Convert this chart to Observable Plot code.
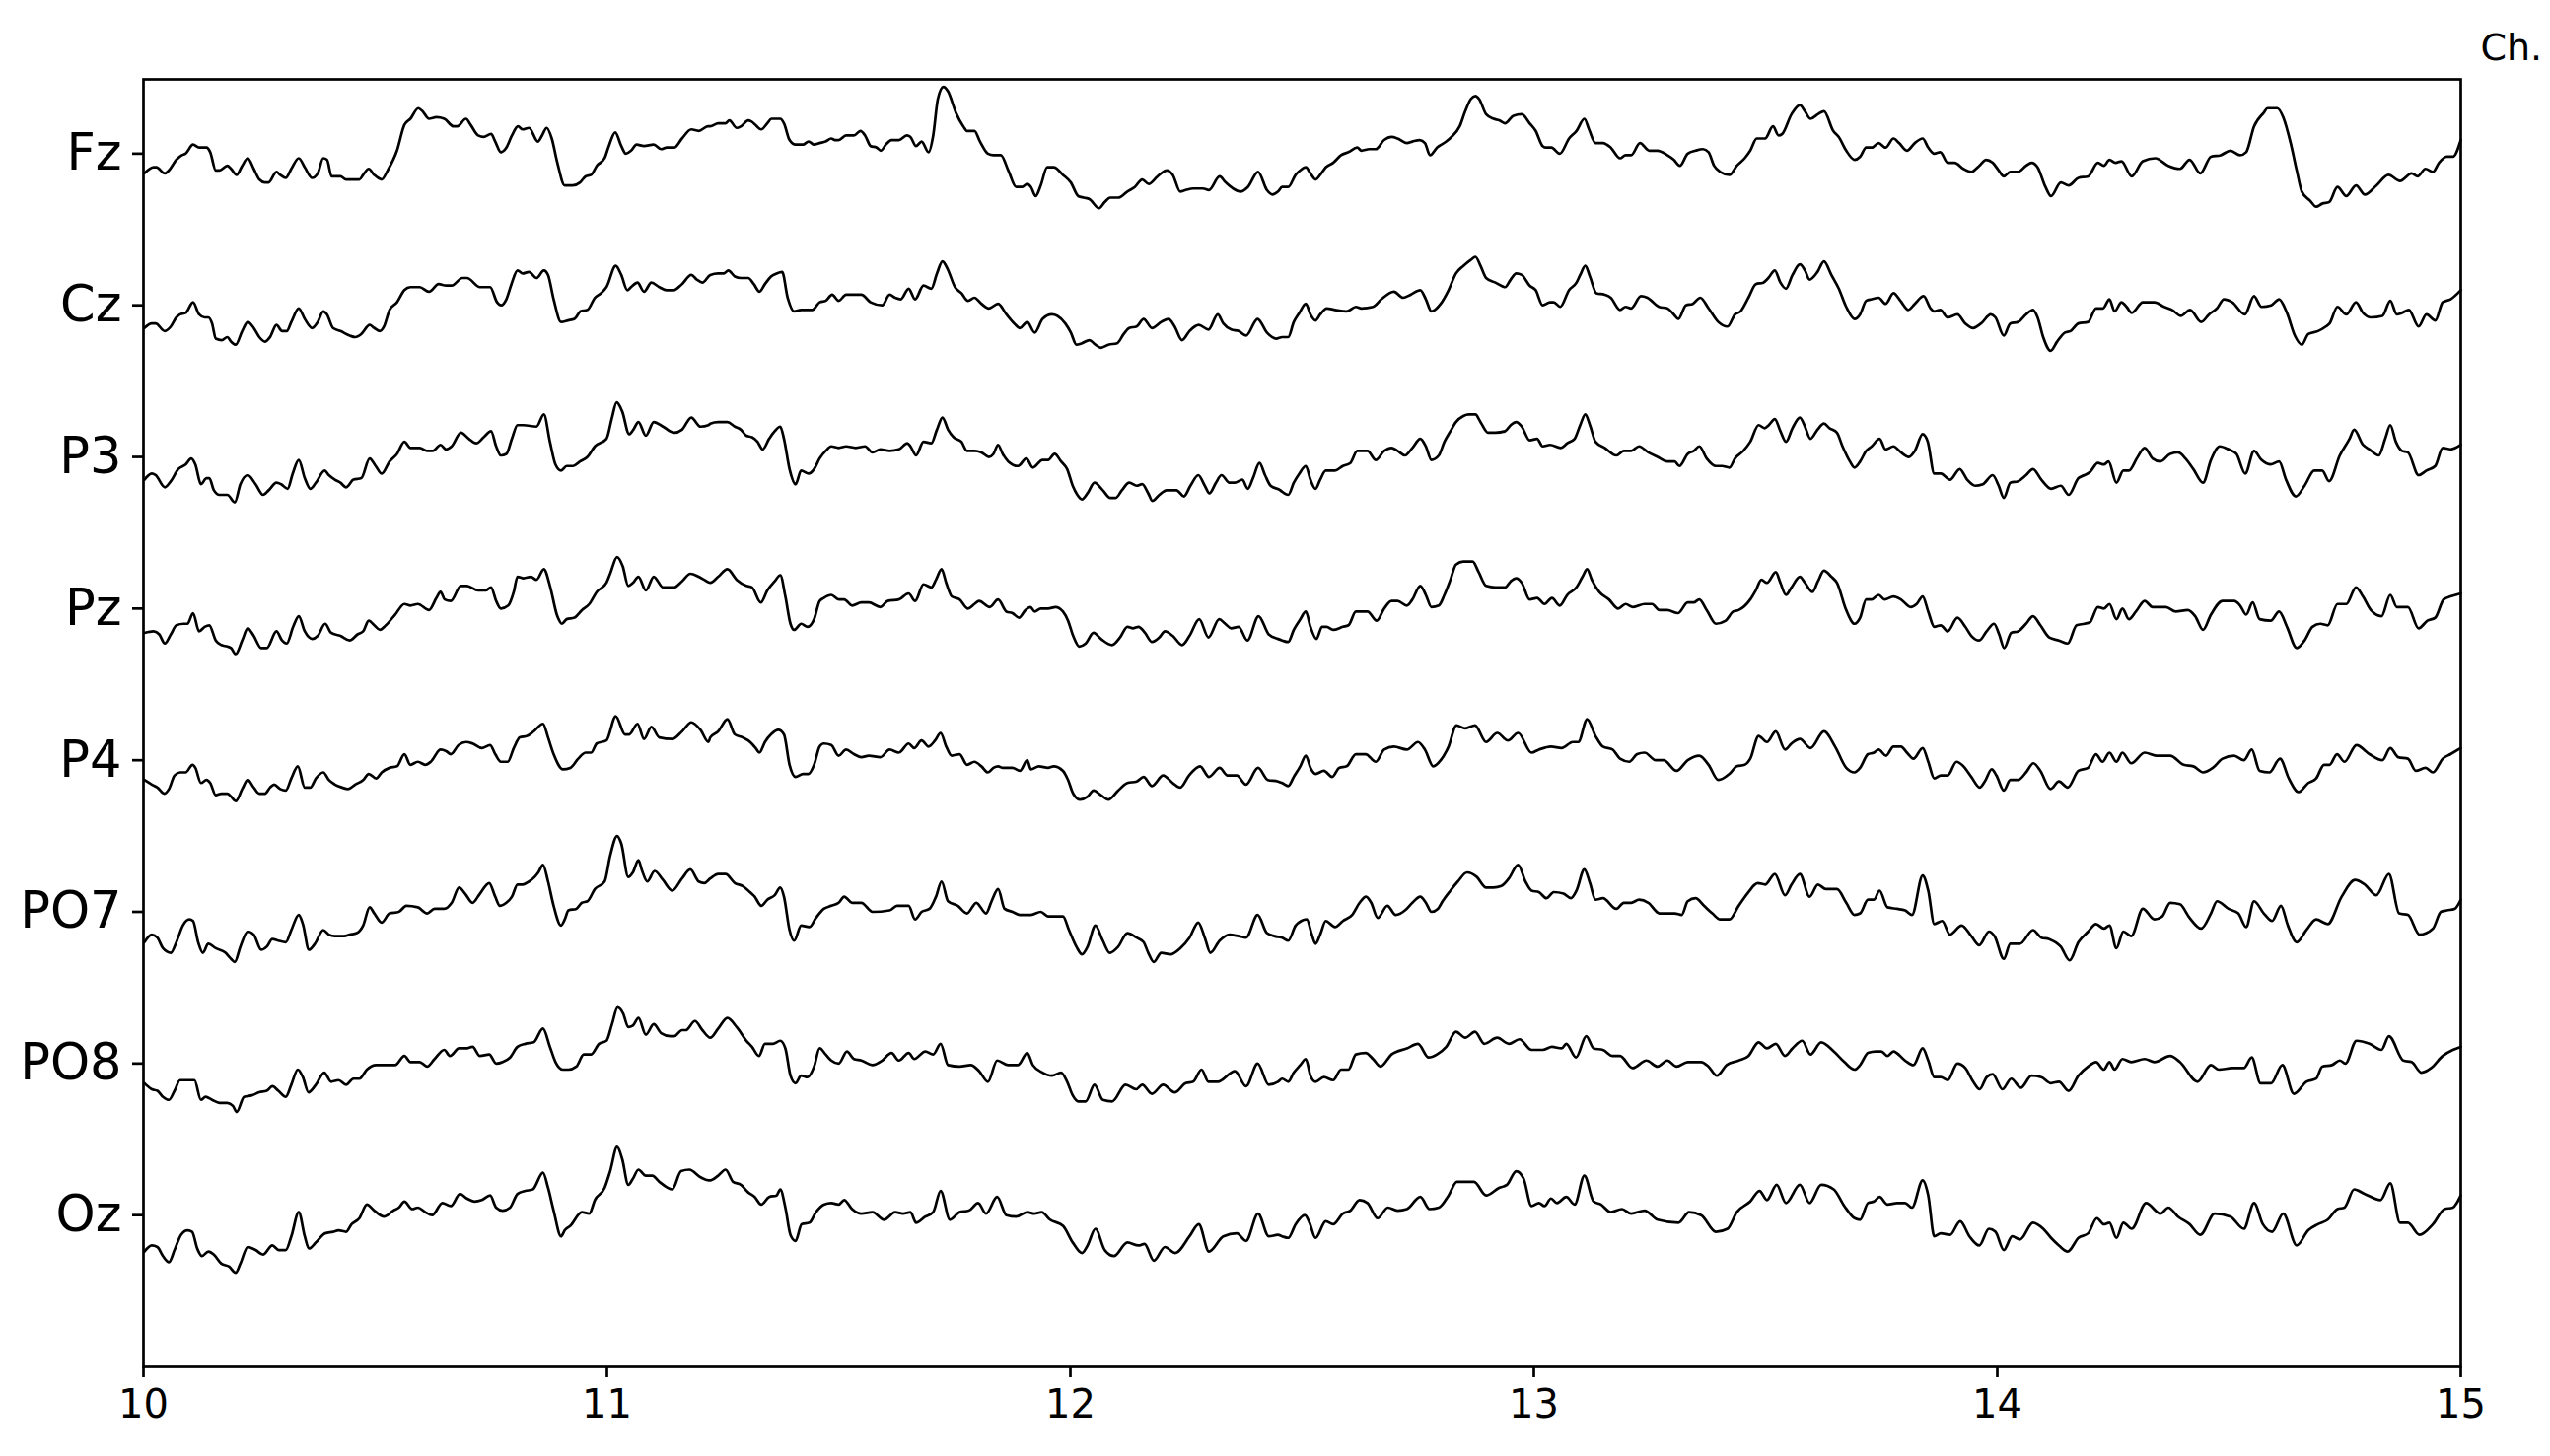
<!DOCTYPE html>
<html><head><meta charset="utf-8">
<script src="https://cdn.jsdelivr.net/npm/d3@7"></script>
<script src="https://cdn.jsdelivr.net/npm/@observablehq/plot@0.6"></script>
<style>
html,body{margin:0;padding:0;background:#fff;}
#chart{width:2586px;height:1477px;}
</style></head><body><div id="chart"></div>
<script>
const channels = ["Fz","Cz","P3","Pz","P4","PO7","PO8","Oz"];
const xTicks = [10,11,12,13,14,15];
const yLabel = "Ch.";

// [time (s), amplitude (1/100 of the row spacing, positive = up)]
const fz = [[10.002,-13],[10.022,-9],[10.028,-9],[10.046,-13],[10.055,-11],[10.071,-4],[10.083,-1],[10.091,0],[10.107,6],[10.120,4],[10.136,4],[10.144,1],[10.156,-11],[10.164,-11],[10.181,-8],[10.189,-10],[10.201,-14],[10.213,-8],[10.225,-3],[10.238,-10],[10.250,-17],[10.262,-19],[10.270,-19],[10.287,-12],[10.295,-14],[10.307,-16],[10.319,-10],[10.335,-3],[10.348,-9],[10.364,-16],[10.376,-13],[10.388,-3],[10.396,-4],[10.406,-15],[10.425,-15],[10.437,-17],[10.466,-17],[10.474,-14],[10.486,-10],[10.498,-14],[10.514,-17],[10.527,-11],[10.547,2],[10.563,19],[10.576,23],[10.593,30],[10.602,28],[10.616,23],[10.632,24],[10.649,23],[10.669,18],[10.677,18],[10.696,23],[10.706,19],[10.722,12],[10.734,11],[10.750,13],[10.759,8],[10.771,1],[10.783,4],[10.795,12],[10.808,18],[10.818,16],[10.832,17],[10.851,8],[10.860,12],[10.870,17],[10.881,10],[10.893,-6],[10.909,-21],[10.926,-21],[10.942,-19],[10.954,-15],[10.966,-14],[10.978,-8],[10.995,-3],[11.003,4],[11.018,14],[11.031,5],[11.041,0],[11.052,2],[11.064,6],[11.080,5],[11.101,6],[11.117,3],[11.129,4],[11.145,4],[11.162,10],[11.182,16],[11.198,15],[11.218,18],
[11.223,18],[11.240,20],[11.256,20],[11.264,22],[11.280,17],[11.289,18],[11.305,22],[11.313,21],[11.333,16],[11.346,20],[11.355,23],[11.374,23],[11.382,20],[11.394,9],[11.407,6],[11.423,6],[11.435,8],[11.447,6],[11.459,7],[11.472,8],[11.484,10],[11.492,9],[11.500,9],[11.516,12],[11.533,12],[11.547,15],[11.557,12],[11.569,5],[11.582,4],[11.591,2],[11.602,6],[11.614,9],[11.630,9],[11.647,12],[11.655,11],[11.667,5],[11.679,8],[11.694,1],[11.704,12],[11.714,36],[11.726,44],[11.736,41],[11.753,27],[11.769,18],[11.777,15],[11.793,15],[11.805,8],[11.822,0],[11.834,-1],[11.850,-1],[11.866,-11],[11.883,-22],[11.895,-22],[11.907,-20],[11.915,-22],[11.925,-28],[11.936,-21],[11.950,-9],[11.964,-9],[11.984,-14],[12.001,-19],[12.017,-28],[12.029,-29],[12.041,-30],[12.062,-36],[12.074,-32],[12.086,-29],[12.103,-29],[12.123,-25],[12.139,-22],[12.155,-17],[12.169,-20],[12.188,-15],[12.208,-11],[12.221,-14],[12.237,-25],[12.249,-24],[12.265,-23],[12.286,-23],[12.299,-24],[12.322,-15],[12.335,-19],[12.351,-23],[12.367,-25],[12.383,-22],[12.405,-12],[12.424,-24],[12.436,-27],[12.448,-25],
[12.457,-22],[12.470,-22],[12.486,-14],[12.496,-11],[12.508,-9],[12.518,-13],[12.529,-17],[12.539,-14],[12.551,-9],[12.567,-6],[12.584,-1],[12.600,1],[12.619,4],[12.628,2],[12.645,3],[12.659,3],[12.677,9],[12.693,11],[12.706,10],[12.726,7],[12.738,8],[12.754,9],[12.765,7],[12.776,-1],[12.791,4],[12.811,8],[12.822,11],[12.840,18],[12.852,28],[12.864,36],[12.874,38],[12.882,36],[12.897,26],[12.913,23],[12.925,22],[12.938,20],[12.956,25],[12.974,26],[12.991,20],[13.004,15],[13.019,5],[13.027,4],[13.038,4],[13.056,0],[13.076,10],[13.092,15],[13.109,23],[13.119,16],[13.133,7],[13.149,7],[13.166,4],[13.186,-3],[13.198,-1],[13.210,-1],[13.229,7],[13.249,2],[13.267,2],[13.288,-1],[13.302,-4],[13.315,-8],[13.332,0],[13.349,2],[13.365,3],[13.377,1],[13.389,-8],[13.402,-12],[13.422,-14],[13.438,-8],[13.455,-3],[13.467,2],[13.481,10],[13.499,10],[13.516,18],[13.528,12],[13.536,13],[13.556,26],[13.574,32],[13.585,28],[13.597,23],[13.613,26],[13.626,28],[13.646,15],[13.658,11],[13.674,2],
[13.692,-4],[13.704,-2],[13.717,4],[13.729,4],[13.744,7],[13.759,4],[13.776,10],[13.788,7],[13.805,2],[13.822,7],[13.839,10],[13.851,4],[13.864,0],[13.877,1],[13.893,-6],[13.908,-6],[13.927,-10],[13.944,-12],[13.961,-8],[13.976,-4],[13.990,-6],[14.003,-11],[14.014,-15],[14.028,-12],[14.045,-12],[14.062,-8],[14.074,-6],[14.087,-9],[14.104,-22],[14.116,-28],[14.137,-19],[14.154,-21],[14.175,-16],[14.196,-15],[14.217,-6],[14.230,-8],[14.242,-4],[14.255,-6],[14.268,-5],[14.290,-15],[14.314,-5],[14.341,-3],[14.369,-8],[14.394,-10],[14.415,-4],[14.438,-13],[14.461,-2],[14.482,-1],[14.503,2],[14.524,-1],[14.537,1],[14.554,18],[14.575,27],[14.583,30],[14.604,30],[14.617,24],[14.633,7],[14.646,-11],[14.657,-25],[14.675,-31],[14.688,-35],[14.701,-33],[14.716,-32],[14.734,-22],[14.753,-28],[14.774,-21],[14.793,-27],[14.818,-21],[14.844,-14],[14.869,-18],[14.894,-13],[14.907,-15],[14.924,-10],[14.940,-12],[14.953,-6],[14.970,-2],[14.983,-2],[15.0,9]];

const cz = [[10.002,-15],[10.018,-12],[10.026,-12],[10.046,-17],[10.059,-14],[10.071,-8],[10.079,-6],[10.091,-5],[10.107,2],[10.120,-6],[10.132,-8],[10.140,-8],[10.148,-12],[10.156,-22],[10.169,-23],[10.181,-21],[10.189,-24],[10.199,-26],[10.213,-17],[10.225,-11],[10.238,-15],[10.250,-21],[10.262,-24],[10.273,-21],[10.287,-13],[10.299,-17],[10.309,-17],[10.319,-11],[10.335,-2],[10.348,-9],[10.364,-15],[10.376,-11],[10.388,-4],[10.396,-6],[10.409,-15],[10.425,-17],[10.445,-20],[10.457,-21],[10.470,-19],[10.488,-13],[10.498,-15],[10.510,-17],[10.519,-14],[10.531,-3],[10.547,2],[10.563,10],[10.576,12],[10.596,12],[10.616,9],[10.637,14],[10.653,13],[10.665,13],[10.688,18],[10.698,18],[10.726,12],[10.738,12],[10.748,12],[10.763,2],[10.772,0],[10.783,4],[10.794,14],[10.807,23],[10.818,21],[10.832,22],[10.848,18],[10.864,23],[10.873,20],[10.885,4],[10.901,-11],[10.916,-10],[10.930,-9],[10.943,-4],[10.958,-3],[10.974,5],[10.987,8],[10.999,12],[11.019,26],[11.031,20],[11.044,10],[11.052,12],[11.066,15],[11.080,9],[11.096,15],[11.113,12],[11.129,10],[11.144,10],[11.162,14],[11.182,20],[11.194,17],[11.206,15],
[11.223,20],[11.240,21],[11.252,21],[11.262,23],[11.276,19],[11.289,18],[11.305,18],[11.317,14],[11.329,9],[11.341,14],[11.354,19],[11.366,21],[11.378,22],[11.390,5],[11.404,-4],[11.419,-3],[11.431,-3],[11.443,-3],[11.459,2],[11.472,3],[11.486,7],[11.500,3],[11.516,7],[11.533,7],[11.549,7],[11.569,2],[11.594,0],[11.610,7],[11.622,5],[11.634,4],[11.651,11],[11.665,4],[11.683,13],[11.700,11],[11.712,21],[11.724,29],[11.735,24],[11.751,12],[11.765,8],[11.779,3],[11.793,5],[11.808,1],[11.824,-2],[11.844,1],[11.862,-6],[11.879,-12],[11.891,-15],[11.907,-11],[11.923,-18],[11.940,-9],[11.960,-6],[11.972,-7],[11.989,-12],[12.001,-18],[12.013,-26],[12.025,-25],[12.041,-23],[12.054,-26],[12.066,-28],[12.082,-26],[12.101,-25],[12.115,-19],[12.127,-15],[12.143,-14],[12.158,-9],[12.176,-15],[12.196,-11],[12.212,-9],[12.225,-14],[12.241,-23],[12.257,-17],[12.277,-13],[12.298,-16],[12.318,-6],[12.330,-12],[12.347,-16],[12.363,-17],[12.379,-20],[12.404,-9],[12.424,-18],[12.444,-22],
[12.457,-21],[12.470,-21],[12.482,-11],[12.494,-5],[12.508,1],[12.518,-6],[12.529,-10],[12.539,-6],[12.553,-2],[12.571,-3],[12.596,-4],[12.616,-1],[12.628,-2],[12.653,-1],[12.671,4],[12.698,9],[12.718,5],[12.734,7],[12.755,10],[12.767,4],[12.779,-4],[12.799,1],[12.816,10],[12.832,21],[12.848,26],[12.864,30],[12.874,32],[12.885,26],[12.897,18],[12.917,15],[12.938,12],[12.950,17],[12.962,21],[12.974,20],[12.991,13],[13.004,10],[13.019,0],[13.035,2],[13.043,2],[13.057,-1],[13.076,10],[13.092,15],[13.100,20],[13.111,26],[13.121,19],[13.135,8],[13.153,7],[13.166,5],[13.186,-3],[13.198,-1],[13.210,-2],[13.231,6],[13.245,5],[13.270,-1],[13.288,-2],[13.302,-6],[13.312,-9],[13.328,0],[13.343,1],[13.359,5],[13.377,-2],[13.398,-11],[13.418,-14],[13.434,-6],[13.446,-4],[13.463,5],[13.479,14],[13.495,15],[13.506,18],[13.520,23],[13.532,15],[13.544,11],[13.558,20],[13.574,27],[13.585,23],[13.595,17],[13.612,22],[13.626,29],[13.642,20],[13.658,11],[13.674,-1],
[13.692,-9],[13.704,-6],[13.717,3],[13.729,4],[13.744,5],[13.759,1],[13.776,8],[13.791,3],[13.808,-3],[13.822,1],[13.841,6],[13.856,-2],[13.864,-4],[13.877,-3],[13.893,-8],[13.914,-6],[13.931,-12],[13.948,-15],[13.965,-12],[13.986,-6],[13.996,-8],[14.014,-20],[14.028,-12],[14.045,-11],[14.062,-6],[14.077,-3],[14.087,-8],[14.099,-21],[14.115,-30],[14.129,-24],[14.146,-18],[14.158,-17],[14.175,-12],[14.196,-11],[14.213,-2],[14.228,-2],[14.242,4],[14.253,-4],[14.268,2],[14.279,-1],[14.290,-5],[14.314,2],[14.339,2],[14.360,-1],[14.377,-3],[14.396,-7],[14.416,-3],[14.440,-11],[14.457,-6],[14.474,-2],[14.489,4],[14.507,2],[14.534,-6],[14.554,6],[14.570,-1],[14.591,0],[14.608,4],[14.625,-5],[14.642,-20],[14.657,-26],[14.671,-19],[14.692,-17],[14.709,-14],[14.717,-12],[14.734,-1],[14.753,-6],[14.774,2],[14.789,-5],[14.806,-8],[14.831,-7],[14.848,3],[14.862,-6],[14.873,-5],[14.888,-3],[14.909,-14],[14.926,-6],[14.945,-10],[14.961,2],[14.978,4],[15.0,10]];

const p3 = [[10.002,-15],[10.018,-11],[10.026,-12],[10.046,-20],[10.059,-16],[10.075,-8],[10.091,-5],[10.103,-1],[10.112,-5],[10.124,-18],[10.136,-14],[10.142,-14],[10.152,-22],[10.164,-25],[10.181,-25],[10.197,-30],[10.209,-18],[10.225,-12],[10.242,-18],[10.258,-25],[10.270,-22],[10.287,-17],[10.297,-18],[10.311,-21],[10.322,-11],[10.335,-2],[10.348,-14],[10.360,-21],[10.372,-17],[10.391,-9],[10.400,-12],[10.413,-15],[10.425,-17],[10.437,-20],[10.453,-15],[10.470,-14],[10.488,-1],[10.501,-6],[10.514,-11],[10.531,-3],[10.547,2],[10.563,10],[10.576,6],[10.596,6],[10.612,4],[10.624,4],[10.641,8],[10.653,5],[10.665,7],[10.685,16],[10.702,12],[10.718,9],[10.734,13],[10.750,17],[10.761,7],[10.771,1],[10.783,2],[10.795,12],[10.807,21],[10.820,21],[10.848,20],[10.864,28],[10.877,10],[10.889,-5],[10.901,-9],[10.913,-6],[10.927,-6],[10.942,-3],[10.958,0],[10.974,7],[10.999,12],[11.011,26],[11.021,36],[11.033,30],[11.048,15],[11.057,18],[11.068,23],[11.084,14],[11.101,23],[11.121,20],[11.145,16],[11.162,18],[11.182,26],[11.202,20],[11.219,21],
[11.223,22],[11.240,23],[11.260,23],[11.276,20],[11.289,18],[11.301,14],[11.313,13],[11.325,10],[11.336,5],[11.350,12],[11.362,17],[11.374,20],[11.382,12],[11.394,-8],[11.407,-18],[11.419,-9],[11.435,-11],[11.447,-8],[11.459,-1],[11.472,4],[11.484,7],[11.500,6],[11.516,7],[11.537,6],[11.557,7],[11.573,3],[11.590,5],[11.610,4],[11.630,5],[11.648,9],[11.655,7],[11.667,1],[11.683,10],[11.700,9],[11.712,18],[11.724,26],[11.736,18],[11.748,13],[11.765,10],[11.777,4],[11.793,4],[11.808,3],[11.824,0],[11.834,2],[11.844,8],[11.854,2],[11.866,-3],[11.887,-6],[11.905,-1],[11.919,-7],[11.940,-2],[11.952,-2],[11.966,2],[11.980,-3],[11.993,-8],[12.005,-19],[12.015,-25],[12.025,-28],[12.037,-24],[12.052,-17],[12.070,-22],[12.086,-27],[12.098,-27],[12.111,-22],[12.127,-17],[12.143,-19],[12.155,-18],[12.168,-24],[12.177,-29],[12.192,-25],[12.208,-22],[12.229,-22],[12.245,-26],[12.259,-19],[12.276,-12],[12.290,-19],[12.300,-24],[12.314,-17],[12.326,-12],[12.343,-17],[12.355,-17],[12.371,-15],[12.383,-21],[12.394,-14],[12.408,-4],[12.420,-12],[12.432,-19],[12.453,-22],
[12.457,-23],[12.470,-25],[12.482,-17],[12.494,-11],[12.508,-6],[12.518,-15],[12.529,-21],[12.539,-15],[12.551,-9],[12.571,-9],[12.588,-6],[12.604,-4],[12.619,4],[12.641,4],[12.659,-2],[12.677,4],[12.693,6],[12.706,4],[12.722,1],[12.738,6],[12.755,12],[12.767,7],[12.779,-2],[12.795,1],[12.807,10],[12.820,17],[12.832,23],[12.848,27],[12.860,28],[12.874,28],[12.885,23],[12.901,16],[12.917,16],[12.938,17],[12.950,21],[12.962,23],[12.974,20],[12.991,11],[13.007,12],[13.019,7],[13.035,8],[13.058,6],[13.072,9],[13.088,12],[13.100,21],[13.111,28],[13.121,21],[13.133,10],[13.153,6],[13.178,1],[13.194,4],[13.210,4],[13.227,7],[13.247,3],[13.267,0],[13.288,-3],[13.304,-3],[13.314,-6],[13.332,2],[13.345,4],[13.357,7],[13.373,-1],[13.393,-6],[13.406,-6],[13.422,-7],[13.434,-1],[13.452,4],[13.467,10],[13.485,21],[13.498,19],[13.507,21],[13.520,25],[13.532,17],[13.544,10],[13.558,19],[13.574,26],[13.585,20],[13.597,12],[13.612,18],[13.626,22],[13.638,19],[13.654,16],[13.666,7],[13.682,-3],
[13.692,-7],[13.704,-3],[13.717,4],[13.729,7],[13.746,12],[13.759,5],[13.776,7],[13.792,3],[13.809,0],[13.822,4],[13.839,15],[13.850,10],[13.864,-11],[13.878,-11],[13.898,-15],[13.919,-8],[13.935,-15],[13.952,-19],[13.969,-18],[13.990,-12],[14.003,-19],[14.014,-27],[14.028,-17],[14.045,-16],[14.062,-12],[14.077,-8],[14.095,-15],[14.116,-21],[14.137,-19],[14.154,-25],[14.175,-14],[14.188,-12],[14.200,-10],[14.217,-4],[14.230,-5],[14.240,-3],[14.257,-17],[14.272,-9],[14.284,-9],[14.301,-1],[14.318,6],[14.335,-1],[14.352,-3],[14.373,2],[14.390,3],[14.406,-1],[14.423,-8],[14.444,-17],[14.461,-2],[14.480,7],[14.499,5],[14.516,2],[14.535,-11],[14.554,4],[14.570,-2],[14.590,-5],[14.608,-3],[14.623,-15],[14.644,-26],[14.663,-19],[14.684,-9],[14.701,-9],[14.716,-16],[14.739,1],[14.760,12],[14.770,18],[14.789,8],[14.803,5],[14.823,1],[14.837,12],[14.848,21],[14.860,10],[14.873,4],[14.886,3],[14.909,-12],[14.926,-9],[14.945,-6],[14.961,6],[14.978,5],[15.0,8]];

const pz = [[10.002,-16],[10.022,-15],[10.034,-17],[10.046,-23],[10.059,-17],[10.071,-11],[10.087,-10],[10.095,-10],[10.107,-3],[10.120,-15],[10.132,-12],[10.142,-11],[10.156,-21],[10.168,-24],[10.181,-25],[10.189,-26],[10.199,-30],[10.213,-21],[10.225,-13],[10.238,-18],[10.254,-26],[10.266,-26],[10.287,-15],[10.299,-21],[10.309,-23],[10.323,-12],[10.335,-5],[10.348,-15],[10.364,-20],[10.376,-18],[10.392,-10],[10.405,-16],[10.425,-18],[10.445,-21],[10.462,-17],[10.474,-15],[10.486,-8],[10.498,-11],[10.510,-14],[10.523,-11],[10.543,-4],[10.563,3],[10.576,2],[10.592,3],[10.616,-1],[10.632,7],[10.641,11],[10.650,6],[10.663,5],[10.685,15],[10.698,15],[10.722,12],[10.738,12],[10.750,14],[10.761,5],[10.771,0],[10.787,2],[10.799,11],[10.807,21],[10.820,20],[10.836,21],[10.848,19],[10.864,26],[10.877,15],[10.893,-5],[10.903,-10],[10.913,-7],[10.930,-6],[10.946,-1],[10.962,3],[10.978,11],[10.999,17],[11.007,23],[11.022,34],[11.034,28],[11.046,15],[11.056,17],[11.068,21],[11.084,12],[11.101,21],[11.121,14],[11.145,14],[11.162,18],[11.180,23],[11.198,21],[11.210,19],
[11.223,17],[11.240,21],[11.260,26],[11.280,19],[11.301,15],[11.313,14],[11.332,4],[11.346,12],[11.362,18],[11.374,22],[11.385,8],[11.396,-10],[11.404,-14],[11.419,-10],[11.433,-12],[11.447,-7],[11.459,5],[11.468,7],[11.484,9],[11.500,6],[11.512,6],[11.529,2],[11.549,4],[11.565,4],[11.590,1],[11.606,5],[11.630,6],[11.651,10],[11.665,5],[11.683,16],[11.700,14],[11.710,19],[11.722,26],[11.732,17],[11.744,8],[11.761,6],[11.779,0],[11.793,3],[11.803,5],[11.826,1],[11.844,6],[11.862,-2],[11.875,-3],[11.889,-6],[11.903,-1],[11.914,1],[11.923,-2],[11.936,0],[11.952,0],[11.968,1],[11.984,-2],[11.995,-8],[12.006,-18],[12.019,-25],[12.033,-23],[12.050,-16],[12.066,-20],[12.090,-24],[12.107,-19],[12.123,-12],[12.135,-13],[12.147,-12],[12.161,-16],[12.176,-22],[12.192,-19],[12.204,-15],[12.221,-18],[12.241,-24],[12.257,-18],[12.278,-7],[12.298,-19],[12.321,-7],[12.334,-10],[12.347,-13],[12.363,-12],[12.382,-21],[12.406,-5],[12.428,-17],[12.448,-20],
[12.457,-21],[12.470,-22],[12.482,-14],[12.496,-7],[12.508,-2],[12.518,-12],[12.531,-20],[12.543,-12],[12.553,-12],[12.567,-14],[12.588,-12],[12.600,-11],[12.616,-2],[12.641,-2],[12.661,-8],[12.677,0],[12.693,5],[12.706,5],[12.726,2],[12.738,6],[12.755,15],[12.767,9],[12.779,1],[12.795,2],[12.807,9],[12.820,19],[12.832,29],[12.848,31],[12.868,31],[12.881,24],[12.897,15],[12.917,14],[12.938,14],[12.950,18],[12.962,20],[12.974,17],[12.991,6],[13.007,7],[13.023,3],[13.039,7],[13.056,2],[13.072,9],[13.092,14],[13.105,21],[13.115,26],[13.125,19],[13.141,11],[13.162,6],[13.182,0],[13.198,3],[13.214,1],[13.239,3],[13.255,3],[13.271,-1],[13.288,-1],[13.311,-3],[13.332,4],[13.345,4],[13.357,6],[13.373,-1],[13.393,-10],[13.414,-8],[13.430,-2],[13.442,-1],[13.467,6],[13.479,12],[13.491,19],[13.503,17],[13.522,24],[13.532,17],[13.544,9],[13.556,14],[13.574,21],[13.585,17],[13.601,11],[13.613,18],[13.626,25],[13.642,21],[13.654,17],[13.674,-1],
[13.692,-10],[13.704,-6],[13.717,6],[13.729,6],[13.744,9],[13.757,6],[13.776,8],[13.792,6],[13.813,1],[13.826,3],[13.839,8],[13.851,-2],[13.864,-12],[13.878,-11],[13.893,-15],[13.914,-6],[13.931,-12],[13.944,-18],[13.961,-21],[13.977,-15],[13.993,-10],[14.004,-17],[14.015,-26],[14.030,-16],[14.045,-15],[14.062,-10],[14.077,-5],[14.093,-11],[14.112,-19],[14.133,-21],[14.152,-23],[14.171,-11],[14.188,-10],[14.200,-9],[14.217,1],[14.230,0],[14.242,3],[14.257,-7],[14.270,0],[14.284,-7],[14.299,-2],[14.318,5],[14.335,1],[14.364,1],[14.385,-2],[14.411,-1],[14.427,-5],[14.444,-14],[14.461,-4],[14.486,5],[14.511,5],[14.524,2],[14.537,-4],[14.551,4],[14.566,-7],[14.590,-8],[14.608,-2],[14.625,-12],[14.646,-26],[14.663,-21],[14.680,-12],[14.697,-10],[14.713,-11],[14.734,3],[14.753,3],[14.774,14],[14.789,8],[14.806,-1],[14.829,-5],[14.848,9],[14.862,1],[14.886,1],[14.909,-13],[14.928,-8],[14.945,-6],[14.963,6],[14.978,8],[15.0,10]];

const p4 = [[10.002,-13],[10.018,-16],[10.030,-18],[10.045,-22],[10.055,-19],[10.067,-10],[10.079,-8],[10.091,-8],[10.106,-3],[10.112,-5],[10.124,-15],[10.136,-13],[10.144,-15],[10.156,-23],[10.168,-22],[10.181,-22],[10.189,-24],[10.199,-27],[10.213,-19],[10.225,-13],[10.238,-18],[10.250,-22],[10.262,-22],[10.273,-18],[10.282,-16],[10.295,-19],[10.307,-20],[10.319,-12],[10.333,-4],[10.348,-18],[10.360,-18],[10.372,-12],[10.388,-8],[10.400,-13],[10.413,-16],[10.429,-18],[10.441,-19],[10.457,-16],[10.474,-13],[10.486,-9],[10.502,-12],[10.514,-8],[10.531,-5],[10.547,-4],[10.563,4],[10.576,-3],[10.592,-1],[10.608,-3],[10.620,-1],[10.641,7],[10.653,6],[10.663,4],[10.680,10],[10.696,12],[10.710,11],[10.730,8],[10.748,10],[10.759,4],[10.771,-1],[10.786,-1],[10.799,8],[10.812,15],[10.828,16],[10.842,19],[10.862,24],[10.873,15],[10.885,4],[10.905,-6],[10.921,-5],[10.938,1],[10.954,5],[10.966,5],[10.978,11],[10.999,13],[11.019,29],[11.039,17],[11.048,17],[11.066,24],[11.080,14],[11.096,22],[11.113,15],[11.141,14],[11.162,19],[11.182,25],[11.202,20],[11.219,12],
[11.223,15],[11.240,19],[11.260,27],[11.276,17],[11.293,15],[11.309,12],[11.321,8],[11.329,5],[11.341,12],[11.354,17],[11.370,20],[11.382,17],[11.394,-3],[11.407,-11],[11.423,-9],[11.435,-9],[11.447,-3],[11.459,9],[11.468,11],[11.484,10],[11.500,3],[11.516,7],[11.533,4],[11.549,2],[11.565,3],[11.590,2],[11.610,7],[11.630,5],[11.651,11],[11.663,8],[11.679,13],[11.694,9],[11.708,13],[11.720,18],[11.732,9],[11.744,3],[11.761,4],[11.777,-3],[11.793,-1],[11.808,-4],[11.822,-8],[11.834,-5],[11.844,-4],[11.854,-5],[11.875,-5],[11.891,-7],[11.907,0],[11.915,-6],[11.932,-4],[11.952,-5],[11.964,-4],[11.984,-7],[11.995,-13],[12.006,-22],[12.021,-26],[12.037,-24],[12.050,-20],[12.066,-23],[12.082,-26],[12.103,-20],[12.123,-15],[12.143,-14],[12.158,-11],[12.176,-17],[12.200,-10],[12.221,-15],[12.237,-18],[12.256,-10],[12.280,-4],[12.299,-11],[12.322,-5],[12.339,-10],[12.359,-10],[12.379,-16],[12.405,-5],[12.426,-13],[12.448,-14],
[12.457,-15],[12.470,-17],[12.482,-11],[12.496,-4],[12.508,3],[12.518,-5],[12.529,-9],[12.547,-7],[12.565,-11],[12.580,-5],[12.596,-4],[12.616,4],[12.637,4],[12.659,-1],[12.677,7],[12.698,9],[12.726,7],[12.750,12],[12.765,7],[12.783,-4],[12.799,0],[12.816,9],[12.833,23],[12.852,21],[12.873,23],[12.897,12],[12.921,18],[12.944,13],[12.966,18],[12.995,5],[13.011,7],[13.037,9],[13.060,8],[13.084,12],[13.096,12],[13.115,27],[13.133,16],[13.149,9],[13.170,7],[13.186,1],[13.206,-1],[13.223,4],[13.239,5],[13.263,0],[13.280,0],[13.308,-7],[13.332,0],[13.357,3],[13.377,-3],[13.398,-13],[13.422,-9],[13.438,-4],[13.455,-3],[13.467,1],[13.485,16],[13.503,12],[13.522,19],[13.542,7],[13.556,11],[13.574,14],[13.597,8],[13.626,19],[13.650,9],[13.674,-5],
[13.692,-8],[13.704,-5],[13.721,4],[13.734,5],[13.744,7],[13.760,3],[13.776,9],[13.792,9],[13.805,5],[13.819,1],[13.839,8],[13.851,-1],[13.864,-12],[13.878,-10],[13.893,-10],[13.912,-1],[13.927,-4],[13.944,-11],[13.962,-18],[13.973,-14],[13.988,-6],[13.998,-10],[14.014,-20],[14.028,-13],[14.045,-13],[14.062,-8],[14.078,-2],[14.093,-7],[14.115,-19],[14.133,-14],[14.152,-18],[14.175,-7],[14.196,-5],[14.213,4],[14.227,-1],[14.242,5],[14.257,-1],[14.270,5],[14.289,-2],[14.318,5],[14.343,3],[14.373,3],[14.402,-3],[14.423,-4],[14.444,-8],[14.465,-5],[14.486,1],[14.511,3],[14.532,0],[14.549,7],[14.566,-7],[14.587,-8],[14.610,1],[14.629,-12],[14.650,-21],[14.671,-15],[14.688,-12],[14.705,-3],[14.717,-3],[14.733,4],[14.749,-1],[14.775,10],[14.803,4],[14.831,0],[14.848,8],[14.865,2],[14.886,1],[14.903,-7],[14.924,-5],[14.940,-8],[14.961,1],[14.978,4],[15.0,8]];

const po7 = [[10.002,-20],[10.018,-15],[10.030,-17],[10.042,-24],[10.059,-27],[10.071,-20],[10.085,-9],[10.099,-5],[10.107,-6],[10.118,-20],[10.128,-27],[10.140,-21],[10.156,-24],[10.177,-27],[10.189,-31],[10.197,-33],[10.209,-23],[10.225,-13],[10.238,-15],[10.254,-25],[10.266,-23],[10.278,-18],[10.291,-19],[10.307,-20],[10.319,-12],[10.335,-2],[10.344,-8],[10.357,-25],[10.370,-21],[10.388,-12],[10.400,-15],[10.413,-16],[10.433,-16],[10.445,-15],[10.460,-14],[10.474,-9],[10.488,3],[10.498,-1],[10.514,-7],[10.531,-1],[10.551,0],[10.567,4],[10.592,3],[10.612,-1],[10.628,2],[10.649,2],[10.665,6],[10.681,16],[10.694,12],[10.710,6],[10.726,12],[10.746,19],[10.759,10],[10.769,4],[10.783,6],[10.795,10],[10.807,18],[10.818,18],[10.832,20],[10.844,23],[10.852,26],[10.862,31],[10.873,20],[10.885,4],[10.901,-9],[10.909,-5],[10.917,1],[10.934,2],[10.946,6],[10.958,7],[10.974,15],[10.995,20],[11.007,37],[11.022,50],[11.031,45],[11.046,23],[11.056,26],[11.068,34],[11.076,27],[11.087,20],[11.103,27],[11.121,21],[11.141,14],[11.162,22],[11.180,28],[11.198,20],[11.210,19],
[11.223,22],[11.240,25],[11.256,25],[11.276,19],[11.293,17],[11.305,14],[11.319,10],[11.333,4],[11.346,8],[11.362,11],[11.374,16],[11.382,10],[11.394,-12],[11.404,-19],[11.419,-9],[11.437,-10],[11.451,-4],[11.468,2],[11.484,4],[11.500,6],[11.512,10],[11.529,6],[11.549,6],[11.573,0],[11.610,1],[11.626,4],[11.651,4],[11.665,-5],[11.679,0],[11.696,2],[11.710,10],[11.722,20],[11.736,7],[11.757,4],[11.777,-1],[11.797,6],[11.818,-1],[11.830,7],[11.844,15],[11.858,2],[11.875,0],[11.891,-2],[11.915,-2],[11.936,0],[11.952,-3],[11.984,-3],[11.997,-12],[12.013,-23],[12.025,-28],[12.037,-23],[12.054,-9],[12.070,-19],[12.085,-27],[12.103,-23],[12.123,-14],[12.143,-17],[12.158,-20],[12.168,-27],[12.180,-33],[12.196,-27],[12.216,-28],[12.237,-24],[12.257,-17],[12.276,-7],[12.290,-17],[12.302,-27],[12.322,-19],[12.343,-15],[12.363,-16],[12.379,-17],[12.404,-2],[12.424,-14],[12.440,-16],
[12.457,-17],[12.470,-19],[12.486,-9],[12.498,-6],[12.510,-5],[12.521,-15],[12.529,-21],[12.539,-15],[12.551,-6],[12.571,-10],[12.588,-6],[12.608,-2],[12.624,6],[12.638,10],[12.649,6],[12.663,-4],[12.684,4],[12.702,-2],[12.722,1],[12.738,6],[12.755,10],[12.767,6],[12.779,0],[12.793,2],[12.803,7],[12.820,14],[12.836,20],[12.856,26],[12.877,23],[12.897,16],[12.913,16],[12.930,17],[12.946,22],[12.966,31],[12.982,20],[12.995,14],[13.011,13],[13.027,9],[13.043,13],[13.064,12],[13.080,9],[13.092,14],[13.109,28],[13.121,19],[13.133,8],[13.149,9],[13.178,2],[13.194,6],[13.210,6],[13.227,8],[13.247,6],[13.271,-1],[13.304,-1],[13.319,-2],[13.332,7],[13.349,9],[13.367,4],[13.385,-1],[13.402,-5],[13.422,-5],[13.442,4],[13.463,13],[13.483,19],[13.499,18],[13.520,25],[13.542,11],[13.556,18],[13.574,25],[13.595,10],[13.613,18],[13.630,15],[13.654,15],[13.674,6],
[13.692,-2],[13.704,-1],[13.721,8],[13.734,8],[13.746,14],[13.763,3],[13.784,2],[13.801,1],[13.816,-2],[13.839,24],[13.851,14],[13.864,-8],[13.881,-6],[13.898,-15],[13.923,-9],[13.944,-16],[13.961,-22],[13.982,-13],[13.994,-16],[14.014,-31],[14.028,-21],[14.049,-21],[14.077,-12],[14.095,-17],[14.112,-18],[14.137,-23],[14.156,-32],[14.175,-20],[14.196,-13],[14.213,-8],[14.230,-11],[14.242,-9],[14.257,-24],[14.272,-13],[14.289,-16],[14.314,2],[14.339,-5],[14.356,-3],[14.373,6],[14.394,5],[14.415,-4],[14.440,-11],[14.461,-1],[14.474,7],[14.499,2],[14.520,-1],[14.537,-10],[14.554,7],[14.575,-1],[14.593,-6],[14.612,4],[14.627,-9],[14.646,-20],[14.667,-12],[14.688,-5],[14.713,-8],[14.743,10],[14.772,21],[14.793,18],[14.818,11],[14.845,25],[14.867,-1],[14.886,-2],[14.911,-15],[14.940,-11],[14.957,0],[14.970,1],[14.987,2],[15.0,8]];

const po8 = [[10.002,-13],[10.018,-17],[10.030,-18],[10.042,-22],[10.055,-24],[10.067,-18],[10.079,-11],[10.095,-11],[10.110,-11],[10.124,-24],[10.134,-22],[10.148,-24],[10.164,-26],[10.181,-26],[10.193,-28],[10.201,-32],[10.217,-22],[10.234,-21],[10.250,-19],[10.266,-18],[10.278,-15],[10.291,-18],[10.307,-22],[10.319,-14],[10.333,-4],[10.344,-9],[10.356,-19],[10.372,-14],[10.390,-6],[10.405,-12],[10.421,-11],[10.437,-14],[10.453,-10],[10.466,-10],[10.482,-4],[10.502,-1],[10.523,-1],[10.543,-1],[10.563,5],[10.576,1],[10.596,1],[10.612,-2],[10.628,3],[10.649,9],[10.661,5],[10.681,10],[10.696,10],[10.710,11],[10.726,5],[10.746,6],[10.761,0],[10.775,1],[10.791,4],[10.807,11],[10.824,13],[10.842,14],[10.862,23],[10.877,11],[10.889,1],[10.905,-4],[10.917,-4],[10.934,-2],[10.950,6],[10.966,6],[10.983,13],[10.999,15],[11.011,26],[11.023,37],[11.035,33],[11.046,24],[11.056,25],[11.068,30],[11.084,19],[11.101,26],[11.117,20],[11.137,18],[11.145,18],[11.162,22],[11.170,22],[11.190,28],[11.206,22],
[11.223,17],[11.240,23],[11.260,30],[11.280,24],[11.301,15],[11.313,11],[11.328,5],[11.341,13],[11.358,13],[11.374,15],[11.385,10],[11.396,-8],[11.407,-13],[11.419,-8],[11.433,-9],[11.447,-2],[11.459,10],[11.472,6],[11.484,2],[11.500,0],[11.518,8],[11.533,3],[11.549,2],[11.573,-1],[11.594,2],[11.614,7],[11.630,2],[11.651,7],[11.663,3],[11.687,8],[11.704,6],[11.720,13],[11.736,-1],[11.761,-2],[11.785,-1],[11.803,-5],[11.822,-12],[11.842,2],[11.866,-1],[11.887,-1],[11.907,7],[11.919,-1],[11.940,-6],[11.960,-8],[11.980,-6],[11.993,-12],[12.005,-21],[12.017,-25],[12.033,-25],[12.052,-14],[12.070,-24],[12.090,-25],[12.119,-14],[12.142,-17],[12.155,-14],[12.176,-20],[12.200,-14],[12.225,-19],[12.249,-13],[12.265,-12],[12.283,-4],[12.298,-12],[12.318,-12],[12.355,-5],[12.379,-15],[12.404,0],[12.428,-14],[12.448,-12],
[12.457,-10],[12.470,-12],[12.482,-6],[12.496,-1],[12.508,3],[12.518,-8],[12.529,-12],[12.547,-9],[12.567,-11],[12.584,-4],[12.600,-4],[12.616,6],[12.637,7],[12.653,3],[12.669,-2],[12.693,6],[12.726,10],[12.750,13],[12.773,4],[12.791,6],[12.811,11],[12.832,21],[12.852,17],[12.873,21],[12.893,13],[12.921,17],[12.946,13],[12.969,16],[12.995,9],[13.019,9],[13.039,11],[13.060,10],[13.070,13],[13.091,4],[13.113,18],[13.129,10],[13.149,9],[13.170,5],[13.186,5],[13.213,-3],[13.243,2],[13.267,-2],[13.288,2],[13.308,-2],[13.332,1],[13.361,1],[13.377,-2],[13.395,-8],[13.416,-1],[13.442,2],[13.463,5],[13.485,14],[13.503,10],[13.522,13],[13.542,5],[13.558,10],[13.579,15],[13.597,6],[13.620,14],[13.647,8],[13.670,1],
[13.692,-4],[13.704,-1],[13.721,7],[13.738,8],[13.750,8],[13.763,5],[13.776,8],[13.801,2],[13.819,-1],[13.839,10],[13.851,2],[13.864,-9],[13.878,-9],[13.893,-11],[13.914,0],[13.931,-3],[13.948,-12],[13.962,-17],[13.977,-9],[13.990,-7],[14.011,-17],[14.030,-10],[14.051,-16],[14.074,-8],[14.095,-9],[14.116,-13],[14.133,-12],[14.154,-18],[14.175,-8],[14.196,-2],[14.213,1],[14.230,-4],[14.242,1],[14.253,-4],[14.270,3],[14.289,1],[14.318,3],[14.339,1],[14.373,5],[14.394,1],[14.432,-12],[14.461,-1],[14.478,-4],[14.507,-3],[14.532,-3],[14.549,4],[14.568,-13],[14.591,-13],[14.615,-1],[14.640,-20],[14.667,-12],[14.688,-10],[14.701,-2],[14.722,-1],[14.739,2],[14.751,0],[14.775,15],[14.803,13],[14.829,9],[14.845,18],[14.876,2],[14.894,1],[14.915,-6],[14.936,-3],[14.961,5],[14.983,9],[15.0,11]];

const oz = [[10.002,-24],[10.018,-20],[10.030,-21],[10.042,-27],[10.055,-31],[10.067,-23],[10.081,-13],[10.095,-10],[10.105,-11],[10.116,-22],[10.126,-27],[10.140,-24],[10.152,-26],[10.168,-32],[10.185,-34],[10.199,-38],[10.209,-32],[10.225,-21],[10.242,-23],[10.258,-26],[10.278,-20],[10.292,-23],[10.307,-23],[10.319,-14],[10.335,2],[10.348,-14],[10.357,-22],[10.372,-18],[10.392,-12],[10.409,-11],[10.421,-10],[10.437,-11],[10.449,-6],[10.466,-2],[10.482,7],[10.498,3],[10.519,-1],[10.539,3],[10.551,5],[10.563,9],[10.580,4],[10.592,5],[10.608,2],[10.623,0],[10.645,8],[10.663,6],[10.683,14],[10.698,11],[10.714,9],[10.730,10],[10.748,13],[10.761,5],[10.775,3],[10.791,5],[10.807,14],[10.824,16],[10.840,17],[10.862,28],[10.873,18],[10.885,3],[10.901,-14],[10.909,-10],[10.921,-7],[10.946,2],[10.962,1],[10.974,10],[10.995,18],[11.007,29],[11.022,45],[11.033,37],[11.046,20],[11.056,24],[11.068,30],[11.084,26],[11.098,26],[11.113,22],[11.141,17],[11.160,29],[11.178,30],[11.202,25],[11.219,23],
[11.223,23],[11.240,26],[11.256,30],[11.272,22],[11.289,20],[11.305,15],[11.319,12],[11.333,7],[11.350,12],[11.366,13],[11.374,17],[11.385,5],[11.396,-13],[11.407,-17],[11.420,-6],[11.437,-5],[11.451,2],[11.468,7],[11.484,8],[11.500,7],[11.512,10],[11.529,4],[11.549,1],[11.573,2],[11.598,-3],[11.622,2],[11.639,1],[11.655,2],[11.667,-5],[11.687,-1],[11.704,2],[11.720,16],[11.740,-3],[11.761,2],[11.781,3],[11.801,8],[11.818,1],[11.842,12],[11.862,0],[11.883,-1],[11.907,2],[11.922,1],[11.938,2],[11.956,-3],[11.984,-7],[12.005,-18],[12.025,-25],[12.037,-20],[12.054,-9],[12.074,-23],[12.094,-27],[12.123,-18],[12.147,-20],[12.160,-19],[12.180,-30],[12.204,-21],[12.226,-25],[12.257,-14],[12.277,-6],[12.299,-24],[12.330,-14],[12.359,-12],[12.379,-17],[12.405,1],[12.428,-14],[12.448,-13],
[12.457,-14],[12.470,-15],[12.486,-6],[12.506,0],[12.516,-5],[12.529,-15],[12.551,-4],[12.567,-6],[12.588,1],[12.604,3],[12.624,10],[12.641,8],[12.663,-2],[12.685,5],[12.706,3],[12.726,4],[12.755,12],[12.775,4],[12.795,5],[12.816,13],[12.834,22],[12.871,22],[12.897,13],[12.925,18],[12.942,20],[12.962,29],[12.978,24],[12.995,6],[13.011,8],[13.023,6],[13.037,11],[13.050,8],[13.070,12],[13.088,7],[13.109,26],[13.129,9],[13.145,7],[13.166,2],[13.190,4],[13.210,1],[13.239,3],[13.267,-3],[13.312,-5],[13.335,2],[13.361,0],[13.393,-11],[13.418,-9],[13.438,2],[13.467,9],[13.487,16],[13.503,10],[13.524,20],[13.544,8],[13.574,20],[13.595,8],[13.620,20],[13.647,17],[13.670,6],
[13.692,-2],[13.704,-3],[13.721,8],[13.734,9],[13.746,12],[13.763,7],[13.784,8],[13.801,8],[13.816,5],[13.839,23],[13.851,13],[13.864,-14],[13.878,-12],[13.898,-13],[13.920,-4],[13.940,-14],[13.961,-20],[13.982,-9],[13.996,-11],[14.014,-23],[14.032,-14],[14.049,-16],[14.077,-5],[14.099,-9],[14.116,-15],[14.133,-20],[14.152,-24],[14.175,-15],[14.196,-12],[14.215,-2],[14.230,-6],[14.242,-5],[14.257,-15],[14.272,-5],[14.290,-9],[14.321,8],[14.352,1],[14.369,5],[14.390,-1],[14.415,-6],[14.438,-13],[14.469,1],[14.503,-1],[14.532,-9],[14.554,8],[14.573,-6],[14.593,-11],[14.617,1],[14.646,-20],[14.671,-10],[14.692,-6],[14.713,-3],[14.734,4],[14.749,5],[14.770,17],[14.793,14],[14.827,10],[14.848,21],[14.869,-5],[14.886,-5],[14.911,-13],[14.940,-6],[14.965,4],[14.983,5],[15.0,13]];

const traces = [fz, cz, p3, pz, p4, po7, po8, oz];
const rowSpan = 100; // amplitude units per channel row

const rows = traces.flatMap((tr, i) =>
  tr.map(([t, v]) => ({t, y: i - v / rowSpan, ch: channels[i]})));

const chart = Plot.plot({
  width: 2586,
  height: 1477,
  marginLeft: 145,
  marginRight: 91,
  marginTop: 80,
  marginBottom: 91,
  style: {fontFamily: "'DejaVu Sans', sans-serif", background: "#fff", color: "#000", overflow: "visible"},
  x: {domain: [10, 15]},
  y: {domain: [-0.49, 8], reverse: true},
  marks: [
    Plot.line(rows, {x: "t", y: "y", z: "ch", stroke: "#000", strokeWidth: 2.7, strokeLinejoin: "round", curve: "monotone-x"}),
    Plot.frame({stroke: "#000", strokeWidth: 2.7}),
    Plot.axisY(d3.range(channels.length), {
      tickFormat: i => channels[i], fontSize: 51, tickSize: 11, tickPadding: 11,
      strokeWidth: 2.7, label: null
    }),
    Plot.axisX(xTicks, {
      tickFormat: d => String(d), fontSize: 40, tickSize: 11, tickPadding: 12,
      strokeWidth: 2.7, label: null
    }),
    Plot.text([yLabel], {
      text: d => d, frameAnchor: "top-right", dx: 20, dy: -20,
      textAnchor: "start", lineAnchor: "bottom", fontSize: 38
    })
  ]
});
document.getElementById("chart").appendChild(chart);
</script>
</body></html>
